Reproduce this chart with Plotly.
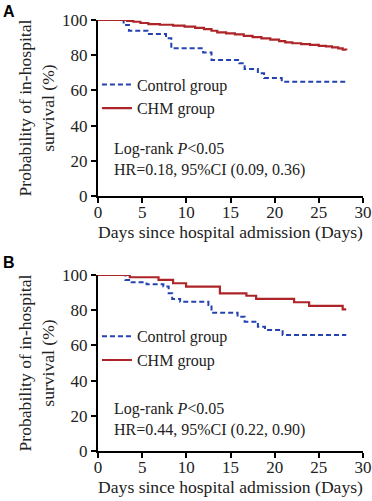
import plotly.graph_objects as go

# ---- data ----
a_ctrl_t = [0, 2.9, 3.5, 5.6, 7.7, 8.3, 11.9, 12.85, 16.0, 16.6, 18.1, 18.8, 20.8, 28.1]
a_ctrl_s = [100, 97.2, 93.9, 92.0, 89.6, 83.9, 81.6, 77.3, 75.4, 72.2, 69.7, 67.0, 64.9, 64.9]

a_chm_t = [0, 3.3, 4.0, 4.8, 5.7, 7.0, 8.5, 9.8, 11.0, 12.0, 12.85, 13.5, 14.5, 15.5, 16.5,
           17.5, 18.5, 19.5, 20.5, 21.2, 22.0, 23.0, 24.0, 25.0, 25.8, 26.5, 27.2, 27.7, 28.1]
a_chm_s = [100, 99.5, 99.0, 98.3, 97.7, 97.3, 96.8, 96.2, 95.5, 94.8, 93.9, 93.0, 92.4, 91.8, 91.0,
           90.3, 89.6, 88.8, 88.0, 87.3, 86.8, 86.3, 85.9, 85.3, 85.0, 84.5, 83.9, 83.2, 82.8]

b_ctrl_t = [0, 3.1, 3.8, 5.5, 7.4, 8.0, 8.4, 9.3, 12.5, 12.85, 15.8, 16.6, 18.1, 18.9, 20.9, 28.1]
b_ctrl_s = [100, 97.2, 95.8, 94.7, 93.4, 89.6, 86.4, 84.8, 83.0, 78.5, 76.3, 73.5, 70.6, 68.8, 65.9, 65.9]

b_chm_t = [0, 3.6, 6.85, 8.5, 9.97, 13.8, 16.8, 17.9, 22.2, 23.9, 27.7, 28.1]
b_chm_s = [100, 98.7, 97.2, 95.3, 93.4, 89.6, 88.2, 86.4, 84.5, 82.4, 80.5, 80.5]

x_ticks = [0, 5, 10, 15, 20, 25, 30]
y_ticks = [0, 20, 40, 60, 80, 100]

series_names = ["Control group", "CHM group"]
panel_labels = ["A", "B"]
stats_a = ["Log-rank <i>P</i>&lt;0.05", "HR=0.18, 95%CI (0.09, 0.36)"]
stats_b = ["Log-rank <i>P</i>&lt;0.05", "HR=0.44, 95%CI (0.22, 0.90)"]
x_title = "Days since hospital admission (Days)"
y_title = "Probability of in-hospital<br>survival (%)"

BLUE = "#2443b0"
RED = "#ad2529"
FONT = "Liberation Serif"
TXT = "#222222"

fig = go.Figure()
fig.add_trace(go.Scatter(x=a_ctrl_t, y=a_ctrl_s, mode="lines", line=dict(shape="hv", color=BLUE, width=2, dash="5px,3px"),
                         name=series_names[0], xaxis="x", yaxis="y", legend="legend"))
fig.add_trace(go.Scatter(x=a_chm_t, y=a_chm_s, mode="lines", line=dict(shape="hv", color=RED, width=2.2),
                         name=series_names[1], xaxis="x", yaxis="y", legend="legend"))
fig.add_trace(go.Scatter(x=b_ctrl_t, y=b_ctrl_s, mode="lines", line=dict(shape="hv", color=BLUE, width=2, dash="5px,3px"),
                         name=series_names[0], xaxis="x2", yaxis="y2", legend="legend2"))
fig.add_trace(go.Scatter(x=b_chm_t, y=b_chm_s, mode="lines", line=dict(shape="hv", color=RED, width=2.2),
                         name=series_names[1], xaxis="x2", yaxis="y2", legend="legend2"))

x_axis_common = dict(showgrid=False, zeroline=False, showline=True, linecolor="black", linewidth=2,
                     ticks="outside", ticklen=5, tickwidth=2, tickcolor="black", automargin=False,
                     ticklabelstandoff=-5,
                     tickfont=dict(family=FONT, size=17, color=TXT))
y_axis_common = dict(showgrid=False, zeroline=False, showline=True, linecolor="black", linewidth=2,
                     ticks="outside", ticklen=5, tickwidth=2, tickcolor="black", automargin=False,
                     tickfont=dict(family=FONT, size=17, color=TXT))

title_font = dict(family=FONT, size=17.6, color=TXT)
legend_common = dict(xanchor="left", yanchor="middle", bgcolor="rgba(0,0,0,0)",
                     font=dict(family=FONT, size=16, color=TXT), tracegroupgap=0, itemwidth=30)

fig.update_layout(
    template="none",
    width=372, height=501,
    margin=dict(l=98, r=9, t=20, b=50, pad=0),
    paper_bgcolor="white", plot_bgcolor="white",
    font=dict(family=FONT, color=TXT),
    xaxis=dict(domain=[0, 1], anchor="y", range=[0, 30], tickvals=x_ticks,
               title=dict(text=x_title, font=title_font, standoff=3), **x_axis_common),
    yaxis=dict(domain=[0.5916, 1], anchor="x", range=[0, 100], tickvals=y_ticks,
               title=dict(text=y_title, font=title_font, standoff=3), **y_axis_common),
    xaxis2=dict(domain=[0, 1], anchor="y2", range=[0, 30], tickvals=x_ticks,
                title=dict(text=x_title, font=title_font, standoff=3), **x_axis_common),
    yaxis2=dict(domain=[0, 0.4084], anchor="x2", range=[0, 100], tickvals=y_ticks,
                title=dict(text=y_title, font=title_font, standoff=3), **y_axis_common),
    legend=dict(x=-0.004, y=0.8225, **legend_common),
    legend2=dict(x=-0.004, y=0.2383, **legend_common),
    showlegend=True,
)

for i, (lines, yy) in enumerate([(stats_a, "y"), (stats_b, "y2")]):
    xr = "x" if i == 0 else "x2"
    fig.add_annotation(x=1.6, y=26.5 if i == 0 else 23.7, xref=xr, yref=yy, text=lines[0],
                       showarrow=False, xanchor="left", yanchor="middle",
                       font=dict(family=FONT, size=16, color=TXT))
    fig.add_annotation(x=1.6, y=14.8 if i == 0 else 11.9, xref=xr, yref=yy, text=lines[1],
                       showarrow=False, xanchor="left", yanchor="middle",
                       font=dict(family=FONT, size=16, color=TXT))

fig.add_annotation(x=-0.365, y=1.045, xref="paper", yref="paper", text="<b>" + panel_labels[0] + "</b>",
                   showarrow=False, xanchor="left", yanchor="top",
                   font=dict(family="Liberation Sans", size=16, color="black"))
fig.add_annotation(x=-0.365, y=0.462, xref="paper", yref="paper", text="<b>" + panel_labels[1] + "</b>",
                   showarrow=False, xanchor="left", yanchor="top",
                   font=dict(family="Liberation Sans", size=16, color="black"))

fig.write_html("out.html", config={"displayModeBar": False},
               post_script="document.body.style.margin='0';document.body.style.overflow='hidden';")
